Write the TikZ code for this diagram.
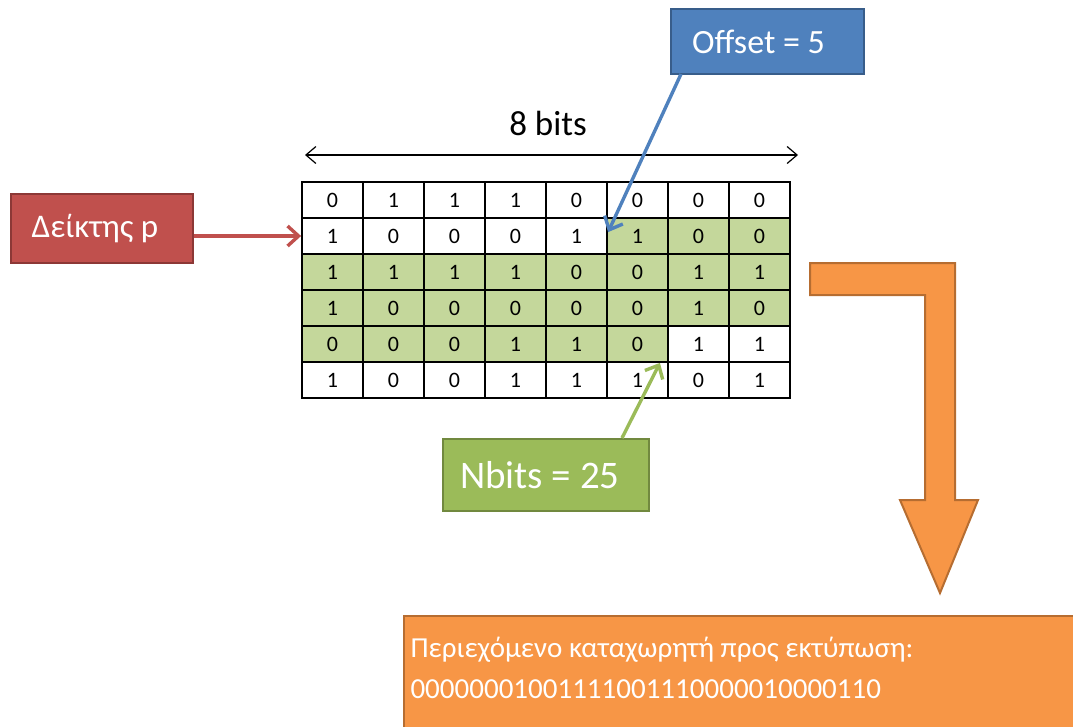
\documentclass[tikz,border=0pt]{standalone}
\usepackage{fontspec}
\setmainfont{Carlito}
\usetikzlibrary{arrows.meta}
\definecolor{cellgreen}{HTML}{C4D79B}
\definecolor{redfill}{HTML}{C0504D}
\definecolor{reddraw}{HTML}{8C3836}
\definecolor{bluefill}{HTML}{4F81BD}
\definecolor{bluedraw}{HTML}{385D8A}
\definecolor{greenfill}{HTML}{9BBB59}
\definecolor{greendraw}{HTML}{71893F}
\definecolor{orangefill}{HTML}{F79646}
\definecolor{orangedraw}{HTML}{B66D31}
\tikzset{
  cellbox/.style={draw=black, line width=1.8pt, minimum width=61pt, minimum height=36pt, inner sep=0pt, font=\fontsize{22}{24}\selectfont},
  labelbox/.style={line width=2pt, text=white, inner sep=0pt, anchor=north west},
  callout/.style={line width=3.4pt, -{Straight Barb[length=11pt,width=20pt,line width=3.4pt]}}
}
\begin{document}
\begin{tikzpicture}[x=1pt,y=-1pt]
\useasboundingbox (0,0) rectangle (1073,726);
\clip (0,0) rectangle (1073,726);
% green region of the grid
\fill[cellgreen] (607,218) -- (790,218) -- (790,326) -- (668,326) -- (668,362) -- (302,362) -- (302,254) -- (607,254) -- cycle;
% grid
\foreach \rr/\vals in {0/{0,1,1,1,0,0,0,0},1/{1,0,0,0,1,1,0,0},2/{1,1,1,1,0,0,1,1},3/{1,0,0,0,0,0,1,0},4/{0,0,0,1,1,0,1,1},5/{1,0,0,1,1,1,0,1}}{
  \foreach \v [count=\cc from 0] in \vals {
    \node[cellbox] (c-\rr-\cc) at ({302+61*(\cc+0.5)},{182+36*(\rr+0.5)}) {\v};
  }
}
% 8 bits dimension
\coordinate (dl) at (305,155);
\coordinate (dr) at (798,155);
\draw[line width=1.2pt, {Straight Barb[length=10pt,width=17pt]}-{Straight Barb[length=10pt,width=17pt]}] (dl) -- (dr);
\node[font=\fontsize{35}{40}\selectfont] (bits) at (548,123) {8 bits};
% pointer box
\node[labelbox, fill=redfill, draw=reddraw, minimum width=182pt, minimum height=69pt] (ptr) at (10,193) {};
\node[text=white, font=\fontsize{33}{38}\selectfont] (ptrt) at ([xshift=-7pt]ptr.center) {Δείκτης p};
\draw[callout, redfill] (ptr.east |- c-1-0.west) -- (c-1-0.west);
% offset box
\node[labelbox, fill=bluefill, draw=bluedraw, minimum width=193pt, minimum height=65pt] (off) at (670,8) {};
\node[text=white, font=\fontsize{34}{40}\selectfont] (offt) at ([xshift=-9pt]off.center) {Offset = 5};
\coordinate (offs) at (681,74);
\draw[callout, bluefill] (offs) -- ([shift={(2,15)}]c-1-5.north west);
% nbits box
\node[labelbox, fill=greenfill, draw=greendraw, minimum width=206pt, minimum height=72pt] (nb) at (442,438) {};
\node[text=white, font=\fontsize{39}{44}\selectfont] (nbt) at ([xshift=-6pt]nb.center) {Nbits = 25};
\coordinate (nbs) at (622,438);
\draw[callout, greenfill] (nbs) -- ([xshift=-9pt]c-4-5.south east);
% bent orange arrow
\draw[fill=orangefill, draw=orangedraw, line width=2pt, line join=miter]
  (810,263) -- (955,263) -- (955,500) -- (978,500) -- (940,593) -- (900,500) -- (925,500) -- (925,295) -- (810,295) -- cycle;
% orange result box
\node[labelbox, fill=orangefill, draw=orangedraw, minimum width=690pt, minimum height=130pt] (res) at (403,615) {};
\node[text=white, anchor=west, align=left, font=\fontsize{29}{36}\selectfont] (rest) at (407,668)
  {Περιεχόμενο καταχωρητή προς εκτύπωση:\\[5pt]00000001001111001110000010000110};
\end{tikzpicture}
\end{document}
